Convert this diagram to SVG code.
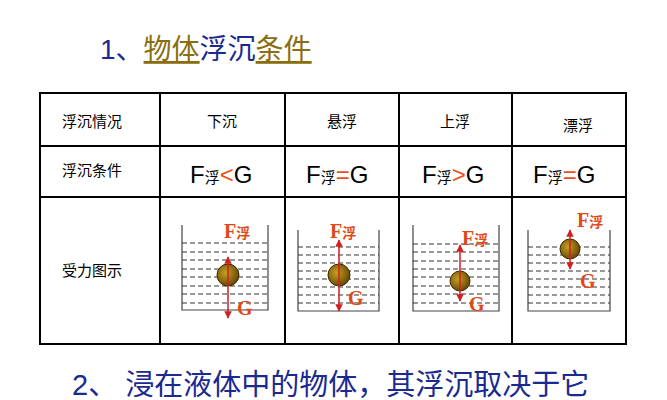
<svg xmlns="http://www.w3.org/2000/svg" width="667" height="400" viewBox="0 0 667 400">
<defs>
<style>
.t{font-family:"Liberation Sans","Noto Sans CJK SC",sans-serif;}
.cell{font-size:15px;fill:#000;text-anchor:middle;}
.cond{font-size:24px;fill:#000;}
.sub{font-size:15px;}
.op{fill:#e8501c;}
.grid{stroke:#000;stroke-width:2;fill:none;}
.beak{stroke:#444;stroke-width:1.2;fill:none;}
.water{stroke:#333;stroke-width:1;stroke-dasharray:5,3;}
.fa{stroke:#d02020;stroke-width:1.5;marker-end:url(#ah);}
.lbl{font-family:"Liberation Serif","Noto Sans CJK SC",serif;font-weight:bold;fill:#e04818;font-size:20px;}
.lbl tspan{font-size:14px;}
</style>
<marker id="ah" viewBox="0 0 10 10" refX="9" refY="5" markerWidth="5" markerHeight="5" orient="auto"><path d="M0,0L10,5L0,10z" fill="#d02020"/></marker>
<radialGradient id="ball" cx="0.4" cy="0.4" r="0.6"><stop offset="0" stop-color="#c8a020"/><stop offset="1" stop-color="#6a4a08"/></radialGradient>
</defs>
<rect width="667" height="400" fill="#fff"/>
<g id="title">
<text class="t" x="100" y="59" font-size="28" fill="#1a2a90">1、<tspan fill="#8a6d10" text-decoration="underline">物体</tspan>浮沉<tspan fill="#8a6d10" text-decoration="underline">条件</tspan></text>
</g>
<g id="table">
<rect class="grid" x="40" y="93" width="586" height="251"/>
<line class="grid" x1="40" y1="146" x2="626" y2="146"/>
<line class="grid" x1="40" y1="197" x2="626" y2="197"/>
<line class="grid" x1="160" y1="93" x2="160" y2="344"/>
<line class="grid" x1="285" y1="93" x2="285" y2="344"/>
<line class="grid" x1="399" y1="93" x2="399" y2="344"/>
<line class="grid" x1="512" y1="93" x2="512" y2="344"/>
<text class="t cell" x="92" y="127">浮沉情况</text>
<text class="t cell" x="222" y="127">下沉</text>
<text class="t cell" x="342" y="127">悬浮</text>
<text class="t cell" x="455" y="127">上浮</text>
<text class="t cell" x="578" y="131">漂浮</text>
<text class="t cell" x="92" y="176">浮沉条件</text>
<text class="t cell" x="92" y="276">受力图示</text>
<text class="t cond" x="190" y="183">F<tspan class="sub">浮</tspan><tspan class="op">&lt;</tspan>G</text>
<text class="t cond" x="306" y="183">F<tspan class="sub">浮</tspan><tspan class="op">=</tspan>G</text>
<text class="t cond" x="422" y="183">F<tspan class="sub">浮</tspan><tspan class="op">&gt;</tspan>G</text>
<text class="t cond" x="533" y="183">F<tspan class="sub">浮</tspan><tspan class="op">=</tspan>G</text>
</g>
<g id="beaker1">
<path class="beak" d="M182,225V310H268V225"/>
<g class="water"><line x1="182" y1="243" x2="268" y2="243"/><line x1="182" y1="252" x2="268" y2="252"/><line x1="182" y1="260" x2="268" y2="260"/><line x1="182" y1="269" x2="268" y2="269"/><line x1="182" y1="277" x2="268" y2="277"/><line x1="182" y1="286" x2="268" y2="286"/><line x1="182" y1="294" x2="268" y2="294"/><line x1="182" y1="303" x2="268" y2="303"/></g>
<circle cx="228" cy="275" r="11" fill="url(#ball)" stroke="#3a2a00"/>
<text class="lbl" x="224" y="238">F<tspan>浮</tspan></text>
<text class="lbl" x="237" y="315">G</text>
</g>
<g id="beaker2">
<path class="beak" d="M298,230V311H379V230"/>
<g class="water"><line x1="298" y1="247" x2="379" y2="247"/><line x1="298" y1="255" x2="379" y2="255"/><line x1="298" y1="263" x2="379" y2="263"/><line x1="298" y1="271" x2="379" y2="271"/><line x1="298" y1="279" x2="379" y2="279"/><line x1="298" y1="287" x2="379" y2="287"/><line x1="298" y1="295" x2="379" y2="295"/><line x1="298" y1="303" x2="379" y2="303"/></g>
<circle cx="339" cy="275" r="11" fill="url(#ball)" stroke="#3a2a00"/>
<text class="lbl" x="330" y="238">F<tspan>浮</tspan></text>
<text class="lbl" x="348" y="305">G</text>
</g>
<g id="beaker3">
<path class="beak" d="M413,225V311H499V225"/>
<g class="water"><line x1="413" y1="244" x2="499" y2="244"/><line x1="413" y1="252" x2="499" y2="252"/><line x1="413" y1="261" x2="499" y2="261"/><line x1="413" y1="269" x2="499" y2="269"/><line x1="413" y1="277" x2="499" y2="277"/><line x1="413" y1="286" x2="499" y2="286"/><line x1="413" y1="294" x2="499" y2="294"/><line x1="413" y1="303" x2="499" y2="303"/></g>
<circle cx="460" cy="281" r="10" fill="url(#ball)" stroke="#3a2a00"/>
<text class="lbl" x="462" y="245">F<tspan>浮</tspan></text>
<text class="lbl" x="469" y="311">G</text>
</g>
<g id="beaker4">
<path class="beak" d="M528,230V311H610V230"/>
<g class="water"><line x1="528" y1="247" x2="610" y2="247"/><line x1="528" y1="255" x2="610" y2="255"/><line x1="528" y1="263" x2="610" y2="263"/><line x1="528" y1="271" x2="610" y2="271"/><line x1="528" y1="279" x2="610" y2="279"/><line x1="528" y1="287" x2="610" y2="287"/><line x1="528" y1="295" x2="610" y2="295"/><line x1="528" y1="303" x2="610" y2="303"/></g>
<circle cx="570" cy="249" r="10" fill="url(#ball)" stroke="#3a2a00"/>
<text class="lbl" x="577" y="227">F<tspan>浮</tspan></text>
<text class="lbl" x="580" y="288">G</text>
</g>
<g id="connectors">
<line class="fa" x1="228" y1="275" x2="228" y2="257"/>
<line class="fa" x1="228" y1="275" x2="228" y2="318"/>
<line class="fa" x1="339" y1="275" x2="339" y2="240"/>
<line class="fa" x1="339" y1="275" x2="339" y2="311"/>
<line class="fa" x1="460" y1="281" x2="460" y2="245"/>
<line class="fa" x1="460" y1="281" x2="460" y2="301"/>
<line class="fa" x1="570" y1="249" x2="570" y2="230"/>
<line class="fa" x1="570" y1="249" x2="570" y2="269"/>
</g>
<g id="footer">
<text class="t" x="72" y="395" font-size="29" fill="#1a2a90">2、 浸在液体中的物体，其浮沉取决于它</text>
</g>
</svg>
